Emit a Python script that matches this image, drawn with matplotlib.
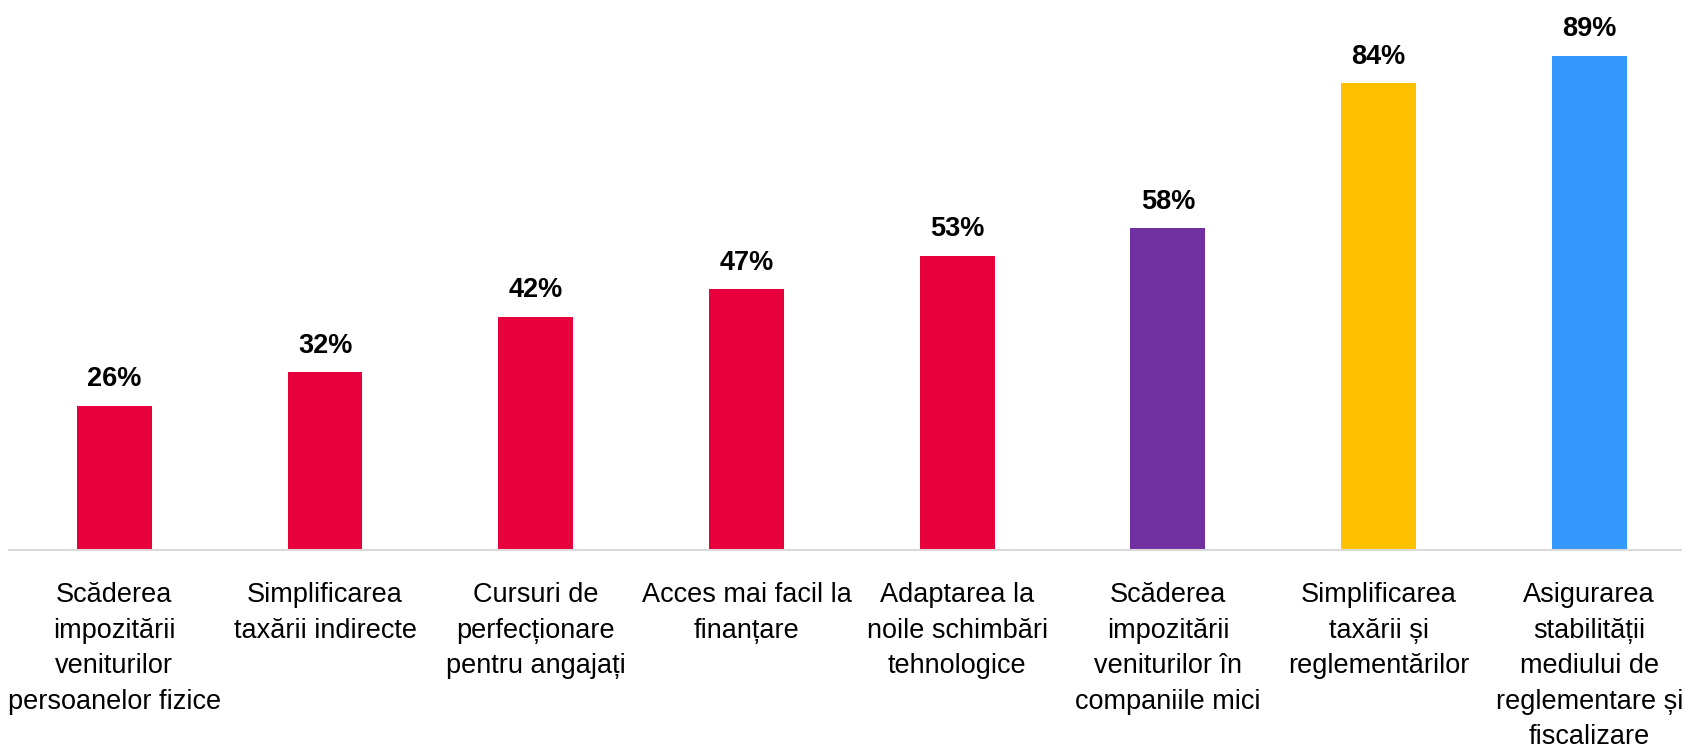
import matplotlib.pyplot as plt

categories = [
    'Scăderea\nimpozitării\nveniturilor\npersoanelor fizice',
    'Simplificarea\ntaxării indirecte',
    'Cursuri de\nperfecționare\npentru angajați',
    'Acces mai facil la\nfinanțare',
    'Adaptarea la\nnoile schimbări\ntehnologice',
    'Scăderea\nimpozitării\nveniturilor în\ncompaniile mici',
    'Simplificarea\ntaxării și\nreglementărilor',
    'Asigurarea\nstabilității\nmediului de\nreglementare și\nfiscalizare',
]
values = [26, 32, 42, 47, 53, 58, 84, 89]
colors = ['#E8003D'] * 5 + ['#7030A0', '#FFC000', '#3399FF']

plt.rcParams['font.family'] = ['Liberation Sans Narrow', 'Liberation Sans', 'DejaVu Sans']

fig = plt.figure(figsize=(16.82, 7.48), dpi=100)
ax = fig.add_axes([9 / 1682, 198 / 748, 1673 / 1682, 550 / 748])

x = range(len(values))
ax.bar(x, values, width=0.355, color=colors)
for i, v in zip(x, values):
    ax.annotate(f'{v}%', (i, v), xytext=(0, 9.5), textcoords='offset points',
                ha='center', va='bottom', fontsize=19.5, fontweight='bold')

ax.set_xlim(-0.5, 7.44)
ax.set_ylim(0, 99)
ax.set_xticks(list(x))
ax.set_xticklabels(categories, fontsize=19.5, linespacing=1.48, va='top')
ax.tick_params(axis='x', length=0, pad=23)
ax.set_yticks([])
for s in ['top', 'right', 'left']:
    ax.spines[s].set_visible(False)
ax.spines['bottom'].set_color('#D9D9D9')
ax.spines['bottom'].set_linewidth(1.5)

fig.savefig('out.png', dpi=100)
